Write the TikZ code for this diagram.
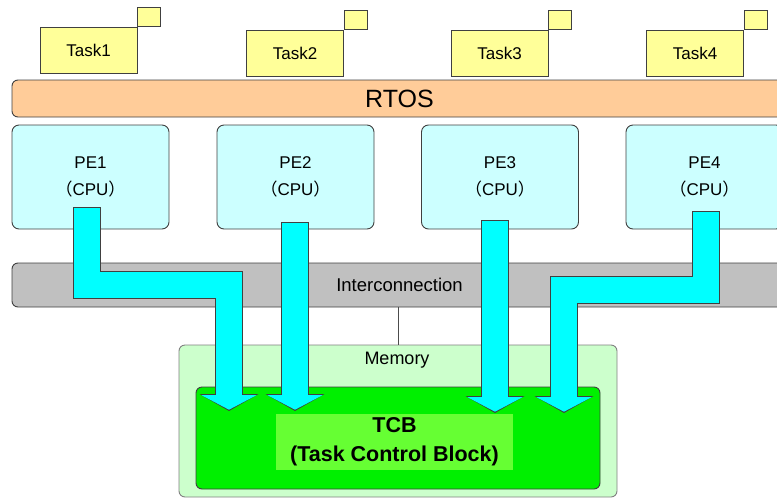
\documentclass[tikz,border=0pt]{standalone}
\usepackage{fontspec}
\setmainfont{Liberation Sans}
\newfontfamily\cjkfont{Noto Sans CJK JP}
\usetikzlibrary{arrows.meta}
\definecolor{taskyellow}{HTML}{FFFF99}
\definecolor{rtosorange}{HTML}{FFCC99}
\definecolor{pecyan}{HTML}{CCFFFF}
\definecolor{icgray}{HTML}{C0C0C0}
\definecolor{memgreen}{HTML}{CCFFCC}
\definecolor{tcbgreen}{HTML}{00F000}
\definecolor{tcblight}{HTML}{66FF33}
\definecolor{flowcyan}{HTML}{00FFFF}
\tikzset{
  box/.style={draw=black!75, line width=0.9pt, inner sep=0pt},
  taskbox/.style={box, fill=taskyellow, minimum width=97pt, minimum height=46pt,
    font=\fontsize{17}{20}\selectfont},
  bar/.style={box, rounded corners=6pt, minimum width=775pt},
  pebox/.style={box, fill=pecyan, rounded corners=7pt, minimum width=157pt,
    minimum height=104pt, align=center, font=\fontsize{17}{27}\selectfont},
  flowout/.style={line width=28pt, draw=black!75, line join=miter,
    -{Triangle[length=17pt,width=59pt,line width=0pt]}},
  flowin/.style={line width=26pt, draw=flowcyan, line join=miter,
    shorten >=1.3pt, shorten <=1pt,
    -{Triangle[length=14.5pt,width=55pt,line width=0pt]}},
}
\newcommand{\widepar}[1]{{\cjkfont #1}}
\begin{document}
\begin{tikzpicture}[x=1pt,y=-1pt]
\useasboundingbox (0,0) rectangle (777,499);
\clip (0,0) rectangle (777,499);

% tasks
\node[taskbox] (task1) at (88.5,50) {Task1};
\node[taskbox] (task2) at (295,53) {Task2};
\node[taskbox] (task3) at (499.5,53) {Task3};
\node[taskbox] (task4) at (695,53) {Task4};
\foreach \t in {task1,task2,task3,task4}
  \draw[box, fill=taskyellow] (\t.north east) rectangle ++(23,-19);

% layers
\node[bar, fill=rtosorange, minimum height=37pt, font=\fontsize{25}{30}\selectfont]
  (rtos) at (399.5,98.5) {RTOS};
\node[pebox] (pe1) at (90.5,177) {PE1\\\widepar{（}CPU\widepar{）}};
\node[pebox] (pe2) at (295.5,177) {PE2\\\widepar{（}CPU\widepar{）}};
\node[pebox] (pe3) at (500,177) {PE3\\\widepar{（}CPU\widepar{）}};
\node[pebox] (pe4) at (704.5,177) {PE4\\\widepar{（}CPU\widepar{）}};
\node[bar, fill=icgray, minimum height=44pt, font=\fontsize{18.5}{22}\selectfont]
  (ic) at (399.5,285) {Interconnection};

% memory and TCB
\node[box, draw=black!50, fill=memgreen, rounded corners=6pt,
  minimum width=438pt, minimum height=152pt] (mem) at (398,421) {};
\node[font=\fontsize{18}{22}\selectfont] (memtxt) at (397,360) {Memory};
\draw[black!70, line width=0.9pt] (mem.north) -- (mem.north |- ic.south);
\node[box, fill=tcbgreen, rounded corners=6pt,
  minimum width=404pt, minimum height=102pt] (tcb) at (398,438) {};
\node[fill=tcblight, minimum width=237pt, minimum height=56pt, inner sep=0pt,
  align=center, font=\bfseries\fontsize{21.5}{29}\selectfont]
  (tcbtxt) at (394.5,442) {TCB\\(Task Control Block)};

% flows from PEs to TCB
\coordinate (s1) at (87,207);   \coordinate (k1) at (229,285);  \coordinate (e1) at (229,411);
\coordinate (s2) at (295,222);  \coordinate (e2) at (295,411);
\coordinate (s3) at (495,220);  \coordinate (e3) at (495,413);
\coordinate (s4) at (706,211);  \coordinate (k4) at (564,289.5); \coordinate (e4) at (564,413);
\foreach \f in {flowout,flowin}{
  \draw[\f] (s1) |- (k1) -- (e1);
  \draw[\f] (s2) -- (e2);
  \draw[\f] (s3) -- (e3);
  \draw[\f] (s4) |- (k4) -- (e4);
}
\end{tikzpicture}
\end{document}
